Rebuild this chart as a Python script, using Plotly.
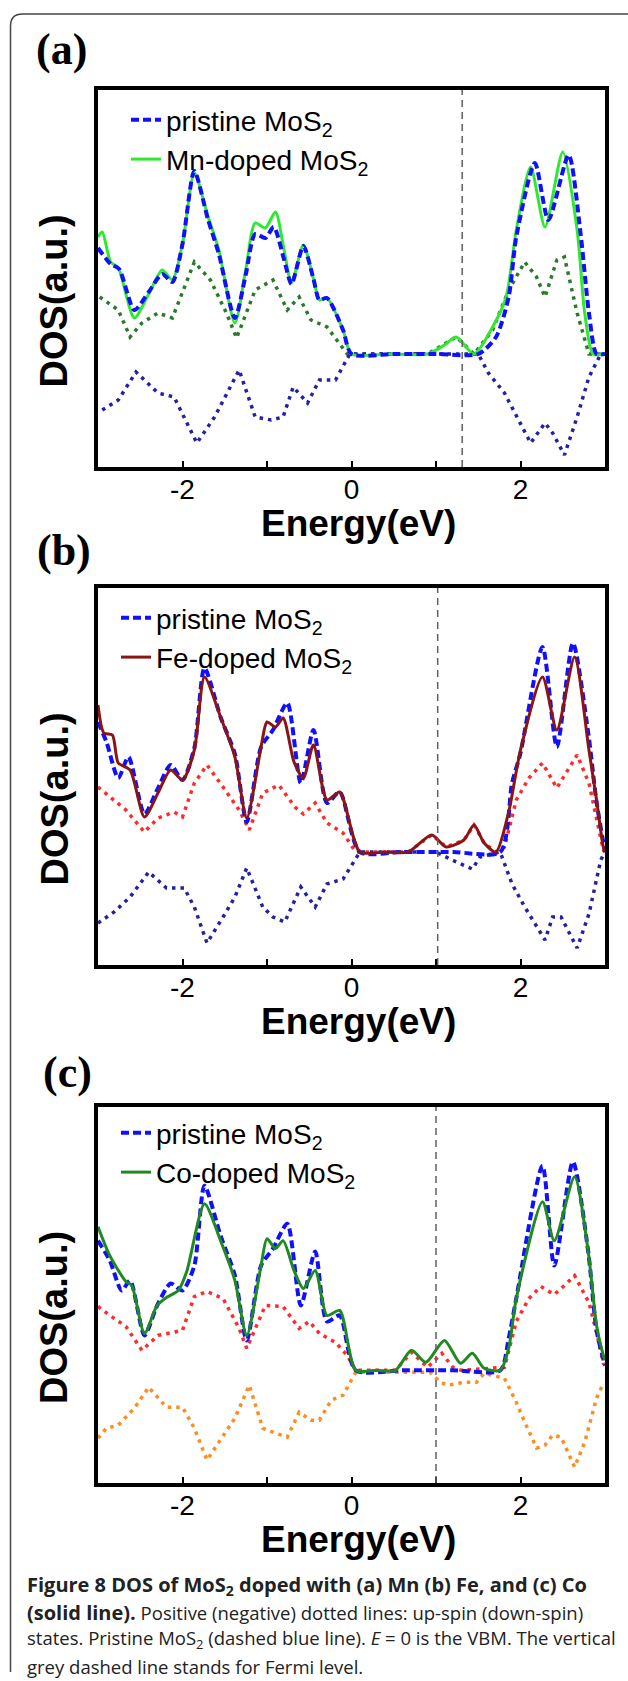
import plotly.graph_objects as go

W, H = 628, 1681

# ---------------- data ----------------
energy_ticks = [-2, 0, 2]
energy_ticktext = ['-2', '0', '2']
energy_minor_ticks = [-1, 1]
fermi_levels = [1.31, 1.02, 1.0]
panel_labels = ['(a)', '(b)', '(c)']
dopant_names = ['Mn-doped MoS<sub>2</sub>', 'Fe-doped MoS<sub>2</sub>', 'Co-doped MoS<sub>2</sub>']

# panel (a) Mn
a_pris_E = [-3.0, -2.85, -2.75, -2.57, -2.4, -2.24, -2.12, -2.0, -1.86, -1.7, -1.57, -1.38, -1.25, -1.14,
            -1.02, -0.92, -0.8, -0.71, -0.57, -0.45, -0.38, -0.29, -0.1, 0.0, 0.5, 1.0, 1.5, 1.71, 1.86,
            1.95, 2.17, 2.33, 2.57, 2.71, 2.81, 2.9, 3.0]
a_pris_D = [10.6, 9.0, 8.5, 4.4, 6.2, 8.0, 7.2, 11.0, 18.3, 13.5, 10.0, 3.6, 8.0, 12.0,
            11.6, 12.7, 9.5, 7.0, 10.8, 7.5, 5.4, 5.6, 2.4, 0.0, 0.0, 0.0, 0.0, 1.7, 5.7,
            11.7, 19.1, 13.4, 19.9, 12.1, 4.1, 0.0, 0.0]
a_dop_E = [-3.0, -2.95, -2.85, -2.76, -2.57, -2.4, -2.24, -2.12, -2.0, -1.86, -1.7, -1.57, -1.38, -1.25,
           -1.14, -1.02, -0.9, -0.8, -0.71, -0.57, -0.45, -0.38, -0.29, -0.1, 0.0, 0.45, 0.9, 1.1, 1.24,
           1.45, 1.67, 1.83, 1.95, 2.12, 2.29, 2.5, 2.67, 2.76, 2.86, 3.0]
a_dop_D = [11.7, 12.2, 9.2, 8.6, 3.6, 6.0, 8.4, 7.4, 11.0, 18.1, 13.8, 10.4, 3.1, 8.5,
           13.1, 12.6, 14.2, 10.5, 7.1, 10.9, 7.5, 5.4, 5.6, 2.4, 0.0, 0.0, 0.0, 0.9, 1.7,
           0.0, 2.7, 5.7, 12.4, 18.7, 12.7, 20.2, 12.4, 4.1, 0.0, 0.0]
a_up_E = [-2.98, -2.76, -2.62, -2.48, -2.29, -2.12, -1.86, -1.67, -1.48, -1.36, -1.14, -0.93, -0.76, -0.62,
          -0.48, -0.29, -0.05, 0.9, 1.24, 1.45, 1.67, 1.86, 2.05, 2.19, 2.29, 2.43, 2.52, 2.67, 2.81, 3.0]
a_up_D = [5.7, 4.4, 1.7, 3.1, 4.1, 3.6, 9.2, 7.4, 4.1, 1.6, 6.4, 7.4, 4.4, 5.7,
          3.4, 2.7, 0.0, 0.0, 1.7, 0.0, 2.4, 6.4, 9.2, 7.7, 5.7, 9.4, 9.7, 4.1, 0.0, 0.0]
a_dn_E = [-2.95, -2.76, -2.55, -2.29, -2.1, -1.83, -1.62, -1.33, -1.14, -0.95, -0.81, -0.69, -0.52, -0.38,
          -0.19, -0.02, 1.5, 1.62, 1.81, 2.0, 2.12, 2.29, 2.38, 2.52, 2.67, 2.81, 2.95, 3.0]
a_dn_D = [-5.6, -4.6, -1.8, -3.9, -4.3, -8.9, -6.3, -1.6, -6.3, -6.6, -6.3, -3.3, -4.9, -2.6,
          -2.6, 0.0, 0.0, -1.9, -3.9, -6.9, -8.9, -6.9, -7.9, -10.1, -6.3, -2.3, 0.0, 0.0]

# panel (b) Fe
b_pris_E = [-3.0, -2.9, -2.76, -2.64, -2.45, -2.3, -2.14, -2.0, -1.86, -1.74, -1.55, -1.38, -1.24, -1.07,
            -0.93, -0.76, -0.6, -0.45, -0.29, -0.14, 0.1, 0.6, 1.2, 1.76, 1.9, 2.0, 2.26, 2.43, 2.62,
            2.8, 2.9, 3.0]
b_pris_D = [13.0, 11.0, 7.4, 9.5, 3.8, 6.2, 8.7, 7.2, 10.4, 18.4, 13.5, 9.8, 3.0, 10.5,
            12.2, 14.9, 6.9, 12.2, 4.9, 6.0, 0.0, 0.0, 0.0, 0.0, 6.9, 9.9, 20.5, 10.5, 20.9,
            12.0, 5.0, 0.0]
b_dop_E = [-3.0, -2.93, -2.83, -2.76, -2.62, -2.45, -2.29, -2.14, -2.0, -1.86, -1.74, -1.55, -1.38, -1.24,
           -1.07, -1.0, -0.9, -0.81, -0.68, -0.57, -0.45, -0.29, -0.14, 0.1, 0.4, 0.67, 0.95, 1.12,
           1.33, 1.45, 1.57, 1.71, 1.86, 2.0, 2.26, 2.43, 2.64, 2.81, 2.9, 2.98, 3.0]
b_dop_D = [14.7, 11.9, 11.7, 8.9, 8.2, 3.5, 5.9, 8.2, 7.2, 10.2, 17.5, 13.5, 9.5, 3.4,
           10.5, 13.0, 12.5, 13.4, 9.0, 7.4, 10.7, 5.2, 6.0, 0.0, 0.0, 0.0, 1.7, 0.5,
           1.2, 2.7, 0.9, 0.0, 4.0, 10.2, 17.5, 12.2, 19.5, 10.2, 5.2, 0.5, 0.0]
b_up_E = [-3.0, -2.86, -2.67, -2.45, -2.29, -2.1, -2.0, -1.86, -1.71, -1.52, -1.33, -1.21, -1.05, -0.86,
          -0.67, -0.57, -0.43, -0.29, -0.1, 0.05, 0.67, 0.95, 1.12, 1.33, 1.45, 1.57, 1.71, 1.81, 1.95,
          2.1, 2.26, 2.43, 2.67, 2.81, 2.9, 2.98, 3.0]
b_up_D = [6.5, 5.5, 4.2, 2.0, 3.4, 4.0, 3.5, 6.9, 8.7, 6.5, 4.2, 2.2, 5.9, 6.7,
          4.5, 3.8, 4.9, 2.9, 1.9, 0.0, 0.0, 1.7, 0.5, 1.2, 2.7, 0.9, 0.0, 0.5, 5.2,
          7.4, 8.9, 6.4, 9.7, 6.9, 3.2, 0.2, 0.0]
b_dn_E = [-3.0, -2.81, -2.62, -2.4, -2.19, -1.98, -1.86, -1.71, -1.52, -1.38, -1.24, -1.05, -0.93, -0.79,
          -0.6, -0.43, -0.29, -0.1, 0.1, 1.0, 1.19, 1.43, 1.52, 1.76, 1.9, 2.05, 2.29, 2.38, 2.48,
          2.67, 2.81, 2.95, 3.0]
b_dn_D = [-7.1, -6.0, -4.5, -2.0, -3.6, -3.6, -5.5, -9.1, -6.5, -4.5, -1.6, -5.5, -6.5, -7.0,
          -3.5, -5.5, -3.2, -2.7, 0.0, 0.0, -0.8, -1.7, -0.5, 0.0, -3.2, -5.5, -8.8, -6.5, -6.5,
          -9.6, -6.2, -0.8, 0.0]

# panel (c) Co
c_pris_E = [-3.0, -2.86, -2.72, -2.62, -2.45, -2.3, -2.14, -2.0, -1.86, -1.74, -1.55, -1.38, -1.24, -1.07,
            -0.93, -0.76, -0.6, -0.43, -0.29, -0.14, 0.05, 0.6, 1.2, 1.76, 1.86, 1.95, 2.26, 2.4, 2.62,
            2.8, 2.9, 3.0]
c_pris_D = [13.0, 11.0, 8.0, 9.0, 3.5, 6.5, 8.7, 8.0, 10.5, 18.5, 13.5, 9.5, 3.0, 10.5,
            12.2, 14.7, 6.5, 11.9, 4.9, 5.5, 0.0, 0.0, 0.0, 0.0, 3.2, 7.2, 20.5, 10.5, 20.9,
            12.0, 4.0, 0.5]
c_dop_E = [-3.0, -2.86, -2.67, -2.6, -2.45, -2.3, -2.19, -2.05, -1.95, -1.74, -1.55, -1.38, -1.24, -1.07,
           -1.0, -0.9, -0.81, -0.68, -0.57, -0.43, -0.29, -0.14, 0.05, 0.3, 0.52, 0.71, 0.88, 1.1,
           1.29, 1.43, 1.57, 1.76, 1.86, 1.95, 2.26, 2.4, 2.64, 2.8, 2.9, 2.98, 3.0]
c_dop_D = [14.4, 11.5, 8.9, 8.5, 3.7, 6.5, 7.3, 8.0, 9.9, 16.7, 13.0, 9.0, 3.5, 10.5,
           13.2, 12.2, 13.0, 10.0, 8.2, 10.0, 5.5, 6.0, 0.0, 0.0, 0.0, 2.0, 0.8, 3.0,
           0.7, 1.7, 0.2, 0.0, 2.2, 7.2, 16.9, 13.0, 19.4, 12.0, 4.5, 1.5, 1.0]
c_up_E = [-3.0, -2.86, -2.67, -2.48, -2.29, -2.1, -2.0, -1.86, -1.71, -1.52, -1.33, -1.24, -1.02, -0.81,
          -0.62, -0.5, -0.38, -0.19, -0.05, 0.05, 0.52, 0.71, 0.9, 1.07, 1.2, 1.3, 1.81, 1.95, 2.1,
          2.24, 2.4, 2.52, 2.64, 2.81, 2.9, 2.98, 3.0]
c_up_D = [6.4, 5.5, 4.4, 2.0, 3.5, 3.8, 4.0, 7.4, 7.9, 7.2, 4.2, 2.2, 6.5, 6.4,
          4.2, 4.9, 3.7, 2.8, 1.5, 0.0, 0.0, 1.8, 0.3, 1.7, 0.3, 0.0, 0.3, 4.9, 7.2,
          8.4, 7.6, 8.5, 9.5, 6.8, 3.8, 0.7, 0.5]
c_dn_E = [-3.0, -2.9, -2.76, -2.57, -2.4, -2.19, -2.0, -1.86, -1.71, -1.57, -1.38, -1.21, -1.05, -0.9,
          -0.76, -0.62, -0.48, -0.38, -0.24, -0.1, 0.05, 0.93, 1.05, 1.14, 1.33, 1.48, 1.57, 1.81, 1.95,
          2.05, 2.19, 2.29, 2.38, 2.48, 2.64, 2.76, 2.9, 2.98]
c_dn_D = [-6.8, -5.8, -5.5, -3.8, -1.7, -3.7, -3.7, -5.8, -9.0, -7.2, -4.8, -1.5, -5.8, -6.3,
          -6.7, -4.2, -5.0, -5.0, -3.0, -2.5, -0.2, -0.2, -1.2, -1.5, -1.2, -1.2, -0.3, -0.8, -3.2,
          -5.2, -7.8, -7.5, -6.5, -6.7, -9.7, -7.2, -2.8, -1.3]

B = '<span style="font-size:20px"><b>{}</b></span>'
caption_lines = [
    B.format('Figure 8 DOS of MoS<sub>2</sub> doped with (a) Mn (b) Fe, and (c) Co'),
    B.format('(solid line).') + ' Positive (negative) dotted lines: up-spin (down-spin)',
    'states. Pristine MoS<sub>2</sub> (dashed blue line). <i>E</i> = 0 is the VBM. The vertical',
    'grey dashed line stands for Fermi level.',
]

# ---------------- styling / layout (pixels) ----------------
BOX_X = (98, 605)
BOX_Y = [(90, 467), (588, 965), (1107, 1483)]
Y_RANGE = [-11.3, 26.4]
dop_colors = ['#2eea2e', '#8b1414', '#1f8a1f']
up_colors = ['#2a7a2a', '#ff2a2a', '#ff2a2a']
dn_colors = ['#2222a0', '#2222a0', '#ff8c1e']
PRIS_COLOR = '#1010ff'
AXFONT = 'Liberation Sans, Arial, sans-serif'


def fx(p):
    return p / W


def fy(p):
    return 1 - p / H


panels = [
    (a_pris_E, a_pris_D, a_dop_E, a_dop_D, a_up_E, a_up_D, a_dn_E, a_dn_D),
    (b_pris_E, b_pris_D, b_dop_E, b_dop_D, b_up_E, b_up_D, b_dn_E, b_dn_D),
    (c_pris_E, c_pris_D, c_dop_E, c_dop_D, c_up_E, c_up_D, c_dn_E, c_dn_D),
]

fig = go.Figure()
legend_names = ['legend', 'legend2', 'legend3']
legend_pos = [(126, 95), (116, 593), (116, 1108)]

for i, (pE, pD, dE, dD, uE, uD, nE, nD) in enumerate(panels):
    xa = 'x' if i == 0 else f'x{i+1}'
    ya = 'y' if i == 0 else f'y{i+1}'
    lg = legend_names[i]
    dotted = dict(width=3.5, dash='3.5px,5px')
    fig.add_trace(go.Scatter(x=uE, y=uD, mode='lines', xaxis=xa, yaxis=ya, showlegend=False,
                             line=dict(color=up_colors[i], **dotted)))
    fig.add_trace(go.Scatter(x=nE, y=nD, mode='lines', xaxis=xa, yaxis=ya, showlegend=False,
                             line=dict(color=dn_colors[i], **dotted)))
    pris = go.Scatter(x=pE, y=pD, mode='lines', xaxis=xa, yaxis=ya, name='pristine MoS<sub>2</sub>',
                      legend=lg, legendgroup=f'p{i}', legendrank=1,
                      line=dict(color=PRIS_COLOR, width=4, dash='8px,4px', shape='spline', smoothing=0.7))
    dop = go.Scatter(x=dE, y=dD, mode='lines', xaxis=xa, yaxis=ya, name=dopant_names[i],
                     legend=lg, legendgroup=f'd{i}', legendrank=2,
                     line=dict(color=dop_colors[i], width=3, shape='spline', smoothing=0.7))
    if i == 0:
        fig.add_trace(dop)
        fig.add_trace(pris)
    else:
        fig.add_trace(pris)
        fig.add_trace(dop)

layout = dict(
    width=W, height=H, margin=dict(l=0, r=0, t=0, b=0),
    paper_bgcolor='white', plot_bgcolor='white', showlegend=True,
)
for i in range(3):
    xk = 'xaxis' if i == 0 else f'xaxis{i+1}'
    yk = 'yaxis' if i == 0 else f'yaxis{i+1}'
    top, bot = BOX_Y[i]
    layout[xk] = dict(
        domain=[fx(BOX_X[0]), fx(BOX_X[1])], range=[-3, 3], anchor='y' if i == 0 else f'y{i+1}',
        showline=True, mirror=True, linecolor='black', linewidth=3.5,
        ticks='inside', ticklen=6, tickwidth=2, tickcolor='black',
        tickvals=energy_ticks, ticktext=energy_ticktext, ticklabelstandoff=-5,
        minor=dict(tickvals=energy_minor_ticks, ticks='inside', ticklen=6, tickwidth=2,
                   tickcolor='black', showgrid=False),
        tickfont=dict(family=AXFONT, size=28, color='black'),
        showgrid=False, zeroline=False,
    )
    layout[yk] = dict(
        domain=[fy(bot), fy(top)], range=Y_RANGE, anchor='x' if i == 0 else f'x{i+1}',
        showline=True, mirror=True, linecolor='black', linewidth=3.5,
        ticks='', showticklabels=False, showgrid=False, zeroline=False,
    )
    lx, ly = legend_pos[i]
    layout[legend_names[i]] = dict(
        x=fx(lx), y=fy(ly), xanchor='left', yanchor='top', bgcolor='rgba(0,0,0,0)',
        font=dict(family=AXFONT, size=28, color='black'), tracegroupgap=10,
        traceorder='normal', itemwidth=30,
    )
fig.update_layout(**layout)

shapes = []
annotations = []
label_pos = [(35, 49), (36, 551), (42, 1072)]
for i in range(3):
    xa = 'x' if i == 0 else f'x{i+1}'
    ya = 'y' if i == 0 else f'y{i+1}'
    top, bot = BOX_Y[i]
    shapes.append(dict(type='line', xref=xa, yref=f'{ya} domain', x0=fermi_levels[i], x1=fermi_levels[i],
                       y0=0, y1=1, line=dict(color='#606060', width=1.5, dash='7px,5px'), layer='above'))
    annotations.append(dict(text=panel_labels[i], xref='paper', yref='paper',
                            x=fx(label_pos[i][0]), y=fy(label_pos[i][1]), xanchor='left', yanchor='middle',
                            showarrow=False, borderpad=0,
                            font=dict(family='Liberation Serif, Times New Roman, serif', size=44,
                                      color='black', weight='bold')))
    annotations.append(dict(text='<b>Energy(eV)</b>', xref='paper', yref='paper',
                            x=fx(358), y=fy(bot + 56), xanchor='center', yanchor='middle', showarrow=False,
                            font=dict(family=AXFONT, size=37, color='black')))
    annotations.append(dict(text='<b>DOS(a.u.)</b>', xref='paper', yref='paper', textangle=-90,
                            x=fx(54), y=fy((top + bot) / 2 + 23), xanchor='center', yanchor='middle',
                            showarrow=False, font=dict(family=AXFONT, size=38, color='black')))

cap_y = [1585, 1612, 1639, 1666]
for line, yy in zip(caption_lines, cap_y):
    annotations.append(dict(text=line, xref='paper', yref='paper', x=fx(25), y=fy(yy),
                            xanchor='left', yanchor='middle', showarrow=False,
                            font=dict(family='Open Sans, Noto Sans, sans-serif', size=18.5, color='#222222')))

# outer frame (top and left edges with rounded corner)
frame_path = (f'M {fx(10.5)},{fy(1672)} L {fx(10.5)},{fy(26)} '
              f'Q {fx(10.5)},{fy(14)} {fx(22.5)},{fy(14)} L {fx(628)},{fy(14)}')
shapes.append(dict(type='path', xref='paper', yref='paper', path=frame_path,
                   line=dict(color='#444444', width=1.5)))

fig.update_layout(shapes=shapes, annotations=annotations)
fig.write_html('out.html')
